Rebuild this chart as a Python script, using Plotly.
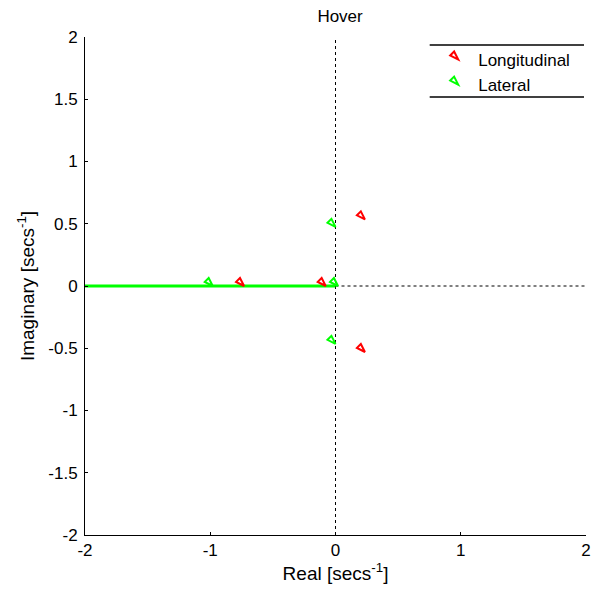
import plotly.graph_objects as go

# poles
long_real = [0.235, 0.235, -0.73, -0.078]
long_imag = [0.535, -0.53, 0.0, 0.0]
lat_real = [0.0, 0.0, -0.98, 0.02]
lat_imag = [0.475, -0.465, 0.0, 0.0]

# green locus along the negative real axis
locus_x = [-2, 0]
locus_y = [0, 0]

x_ticks = [-2, -1, 0, 1, 2]
x_labels = ["-2", "-1", "0", "1", "2"]
y_ticks = [-2, -1.5, -1, -0.5, 0, 0.5, 1, 1.5, 2]
y_labels = ["-2", "-1.5", "-1", "-0.5", "0", "0.5", "1", "1.5", "2"]

font = "Liberation Sans, Arial, Helvetica, sans-serif"

fig = go.Figure()

fig.add_trace(go.Scatter(
    x=locus_x, y=locus_y, mode="lines",
    line=dict(color="#00ff00", width=3), showlegend=False, hoverinfo="skip"
))

fig.add_trace(go.Scatter(
    x=long_real, y=long_imag, mode="markers", name="Longitudinal",
    marker=dict(symbol="arrow-open", angle=135, size=9, color="#ff0000",
                line=dict(color="#ff0000", width=2))
))
fig.add_trace(go.Scatter(
    x=lat_real, y=lat_imag, mode="markers", name="Lateral",
    marker=dict(symbol="arrow-open", angle=135, size=9, color="#00ff00",
                line=dict(color="#00ff00", width=2))
))

# dotted reference axes
fig.add_shape(type="line", x0=0, x1=0, y0=-2, y1=2, xref="x", yref="y",
              line=dict(color="black", width=1, dash="dot"), layer="below")
fig.add_shape(type="line", x0=0, x1=2, y0=0, y1=0, xref="x", yref="y",
              line=dict(color="black", width=1, dash="dot"), layer="below")

# legend box top/bottom rules
for yy in [0.984, 0.8795]:
    fig.add_shape(type="line", x0=0.688, x1=0.996, y0=yy, y1=yy,
                  xref="paper", yref="paper", line=dict(color="black", width=1.5))

fig.update_layout(
    width=595, height=583,
    margin=dict(l=77, r=15, t=29, b=56),
    paper_bgcolor="white", plot_bgcolor="white",
    font=dict(family=font, size=17, color="black"),
    title=dict(text="Hover", x=0.5581, xanchor="center", y=0.997, yanchor="top",
               pad=dict(t=0), font=dict(family=font, size=17)),
    legend=dict(x=0.705, y=0.99, xanchor="left", yanchor="top",
                bgcolor="rgba(0,0,0,0)", font=dict(family=font, size=17), tracegroupgap=0),
    xaxis=dict(range=[-2, 2], tickvals=x_ticks, ticktext=x_labels, showgrid=False,
               zeroline=False, showline=True, linecolor="black", linewidth=1,
               ticks="inside", ticklen=3, tickcolor="black",
               tickfont=dict(family=font, size=17),
               title=dict(text="Real [secs<sup>-1</sup>]", standoff=4,
                          font=dict(family=font, size=19))),
    yaxis=dict(range=[-2, 2], tickvals=y_ticks, ticktext=y_labels, showgrid=False,
               zeroline=False, showline=True, linecolor="black", linewidth=1,
               ticks="inside", ticklen=3, tickcolor="black", ticklabelstandoff=3,
               tickfont=dict(family=font, size=17),
               title=dict(text="Imaginary [secs<sup>-1</sup>]", standoff=8,
                          font=dict(family=font, size=19))),
)

fig.write_html("out.html")
